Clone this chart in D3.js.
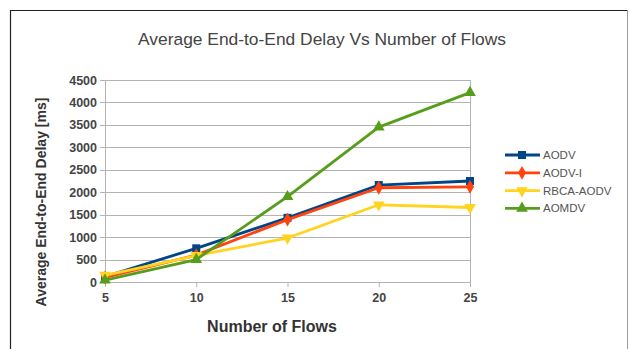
<!DOCTYPE html>
<html>
<head>
<meta charset="utf-8">
<script src="https://cdn.jsdelivr.net/npm/d3@7"></script>
<style>
  html, body { margin: 0; padding: 0; background: #fff; }
  svg { display: block; }
</style>
</head>
<body>
<svg id="chart" width="630" height="349"></svg>
<script>
// Data: average end-to-end delay (ms) per number of flows
const flows = ["5", "10", "15", "20", "25"];
const seriesNames = ["AODV", "AODV-I", "RBCA-AODV", "AOMDV"];
const aodv     = [120, 750, 1430, 2160, 2250];
const aodvI    = [100, 600, 1390, 2100, 2120];
const rbcaAodv = [150, 590, 980, 1720, 1660];
const aomdv    = [40, 500, 1900, 3450, 4220];
const yTicks   = [0, 500, 1000, 1500, 2000, 2500, 3000, 3500, 4000, 4500];

const colors  = ["#004586", "#ff420e", "#ffd320", "#579d1c"];
const symbols = [d3.symbolSquare, d3.symbolDiamond, "down", d3.symbolTriangle];
const values  = [aodv, aodvI, rbcaAodv, aomdv];

const svg = d3.select("#chart");
const font = "Liberation Sans, Arial, sans-serif";

// Frame around the whole chart
svg.append("line").attr("x1", 10).attr("x2", 628).attr("y1", 10.5).attr("y2", 10.5)
  .attr("stroke", "#222").attr("stroke-width", 1.2);
svg.append("line").attr("x1", 10.5).attr("x2", 10.5).attr("y1", 10).attr("y2", 349)
  .attr("stroke", "#222").attr("stroke-width", 1.2);
svg.append("line").attr("x1", 627.5).attr("x2", 627.5).attr("y1", 10).attr("y2", 349)
  .attr("stroke", "#999").attr("stroke-width", 1);

const plotL = 105, plotR = 470, plotT = 80, plotB = 282;

const x = d3.scalePoint().domain(flows).range([plotL, plotR]);
const y = d3.scaleLinear().domain([0, 4500]).range([plotB, plotT]);

// Horizontal gridlines
svg.append("g").selectAll("line").data(yTicks).join("line")
  .attr("x1", plotL - 5).attr("x2", plotR)
  .attr("y1", d => Math.round(y(d)) + 0.5).attr("y2", d => Math.round(y(d)) + 0.5)
  .attr("stroke", "#b3b3b3").attr("stroke-width", 1);

// Plot border sides
svg.append("line").attr("x1", plotL + 0.5).attr("x2", plotL + 0.5).attr("y1", plotT).attr("y2", plotB)
  .attr("stroke", "#b3b3b3");
svg.append("line").attr("x1", plotR + 0.5).attr("x2", plotR + 0.5).attr("y1", plotT).attr("y2", plotB)
  .attr("stroke", "#b3b3b3");

// Y axis labels
const yAxis = d3.axisLeft(y).tickValues(yTicks).tickFormat(d3.format("d")).tickSize(0).tickPadding(8);
const gy = svg.append("g").attr("transform", `translate(${plotL},0)`).call(yAxis);
gy.select(".domain").remove();
gy.selectAll("text")
  .attr("font-family", font)
  .attr("font-size", 12.5).attr("font-weight", "bold").attr("fill", "#444");

// X axis ticks and labels
const xAxis = d3.axisBottom(x).tickSize(5).tickPadding(6);
const gx = svg.append("g").attr("transform", `translate(0,${plotB})`).call(xAxis);
gx.select(".domain").remove();
gx.selectAll("line").attr("stroke", "#b3b3b3");
gx.selectAll("text")
  .attr("font-family", font)
  .attr("font-size", 12.5).attr("font-weight", "bold").attr("fill", "#444");

// Marker shape helpers
function markerPath(sym, size) {
  if (sym === "down") {
    return d3.symbol().type(d3.symbolTriangle).size(size)();
  }
  return d3.symbol().type(sym).size(size)();
}
function markerTransform(sym, px, py) {
  return sym === "down" ? `translate(${px},${py}) rotate(180)` : `translate(${px},${py})`;
}
const sizes = [64, 55, 60, 60];

const line = d3.line().x((d, i) => x(flows[i])).y(d => y(d));

values.forEach((vals, s) => {
  const g = svg.append("g");
  g.append("path").datum(vals).attr("d", line)
    .attr("fill", "none").attr("stroke", colors[s]).attr("stroke-width", 2.8)
    .attr("stroke-linejoin", "round");
  g.selectAll("path.m").data(vals).join("path").attr("class", "m")
    .attr("d", markerPath(symbols[s], sizes[s]))
    .attr("transform", (d, i) => markerTransform(symbols[s], x(flows[i]), y(d)))
    .attr("fill", colors[s]);
});

// Title
svg.append("text").attr("x", 322).attr("y", 45).attr("text-anchor", "middle")
  .attr("font-family", font)
  .attr("font-size", 17.4).attr("fill", "#444")
  .text("Average End-to-End Delay Vs Number of Flows");

// Axis titles
svg.append("text").attr("x", 272).attr("y", 332).attr("text-anchor", "middle")
  .attr("font-family", font)
  .attr("font-size", 16).attr("font-weight", "bold").attr("fill", "#333")
  .text("Number of Flows");

svg.append("text").attr("transform", "translate(46,202) rotate(-90)").attr("text-anchor", "middle")
  .attr("font-family", font)
  .attr("font-size", 14).attr("font-weight", "bold").attr("fill", "#333")
  .text("Average End-to-End Delay [ms]");

// Legend
const legend = svg.append("g");
seriesNames.forEach((name, s) => {
  const ly = 155 + s * 17.8;
  legend.append("line").attr("x1", 505).attr("x2", 540).attr("y1", ly).attr("y2", ly)
    .attr("stroke", colors[s]).attr("stroke-width", 2.8);
  legend.append("path").attr("d", markerPath(symbols[s], sizes[s]))
    .attr("transform", markerTransform(symbols[s], 522, ly)).attr("fill", colors[s]);
  legend.append("text").attr("x", 543).attr("y", ly + 4)
    .attr("font-family", font)
    .attr("font-size", 11.5).attr("fill", "#555").text(name);
});
</script>
</body>
</html>
